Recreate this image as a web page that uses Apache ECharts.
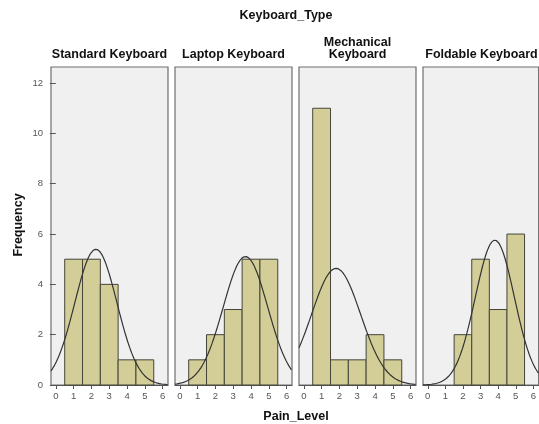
<!DOCTYPE html>
<html>
<head>
<meta charset="utf-8">
<script src="https://cdn.jsdelivr.net/npm/echarts@6/dist/echarts.min.js"></script>
<style>html,body{margin:0;padding:0;background:#fff}#c{width:539px;height:424px}</style>
</head>
<body>
<div id="c"></div>
<script>
const panelTitles = ['Standard Keyboard', 'Laptop Keyboard', 'Mechanical\nKeyboard', 'Foldable Keyboard'];
const painLevels = [1, 2, 3, 4, 5];
const standardCounts = [5, 5, 4, 1, 1];
const laptopCounts = [1, 2, 3, 5, 5];
const mechanicalCounts = [11, 1, 1, 2, 1];
const foldableCounts = [0, 2, 5, 3, 6];
const xTicks = [0, 1, 2, 3, 4, 5, 6];
const yTicks = [0, 2, 4, 6, 8, 10, 12];

const allCounts = [standardCounts, laptopCounts, mechanicalCounts, foldableCounts];

const X_MIN = -0.27, X_MAX = 6.3, Y_MAX = 12.64;
const PANEL_LEFT = 51, PANEL_STEP = 124, PANEL_W = 117, PANEL_TOP = 67, PANEL_H = 318;

function normalCurve(counts) {
  let n = 0, s = 0, ss = 0;
  counts.forEach((c, i) => { const v = painLevels[i]; n += c; s += c * v; ss += c * v * v; });
  const mean = s / n;
  const sd = Math.sqrt((ss - n * mean * mean) / (n - 1));
  const pts = [];
  for (let x = X_MIN; x <= X_MAX + 1e-9; x += 0.02) {
    const z = (x - mean) / sd;
    pts.push([x, n * 1 / (sd * Math.sqrt(2 * Math.PI)) * Math.exp(-0.5 * z * z)]);
  }
  return pts;
}

const tickFont = { color: '#555', fontSize: 9.5, fontFamily: 'Liberation Sans, Arial, sans-serif' };
const grids = [], xAxes = [], yAxes = [], series = [];
allCounts.forEach((counts, i) => {
  grids.push({
    left: PANEL_LEFT + PANEL_STEP * i, top: PANEL_TOP, width: PANEL_W, height: PANEL_H,
    show: true, backgroundColor: '#f0f0f0', borderColor: '#6e6e6e', borderWidth: 1.2,
    containLabel: false
  });
  xAxes.push({
    type: 'value', gridIndex: i, min: X_MIN, max: X_MAX,
    splitLine: { show: false },
    axisLine: { show: true, onZero: false, lineStyle: { color: '#555', width: 1 } },
    axisTick: { show: true, length: 4, customValues: xTicks, lineStyle: { color: '#555' } },
    axisLabel: Object.assign({ customValues: xTicks, margin: 6 }, tickFont)
  });
  yAxes.push({
    type: 'value', gridIndex: i, min: 0, max: Y_MAX,
    show: i === 0,
    splitLine: { show: false },
    axisLine: { show: false },
    axisTick: { show: true, length: 6, customValues: yTicks, lineStyle: { color: '#555' } },
    axisLabel: Object.assign({ customValues: yTicks, margin: 8 }, tickFont)
  });
  series.push({
    type: 'custom', xAxisIndex: i, yAxisIndex: i,
    data: painLevels.map((v, k) => [v, counts[k]]),
    encode: { x: 0, y: 1 },
    z: 2,
    renderItem: function (params, api) {
      const x = api.value(0), y = api.value(1);
      if (!y) return null;
      const p0 = api.coord([x - 0.5, 0]);
      const p1 = api.coord([x + 0.5, y]);
      return {
        type: 'rect',
        shape: { x: p0[0], y: p1[1], width: p1[0] - p0[0], height: p0[1] - p1[1] },
        style: { fill: '#d3ce97', stroke: '#45453a', lineWidth: 1 }
      };
    }
  });
  series.push({
    type: 'line', xAxisIndex: i, yAxisIndex: i, z: 3,
    data: normalCurve(counts), showSymbol: false, symbol: 'none', smooth: false,
    lineStyle: { color: '#333', width: 1.2 }, clip: true, silent: true
  });
});

const font = 'bold 12.5px "Liberation Sans", Arial, sans-serif';
const graphics = [
  { type: 'text', x: 286, y: 16, style: { text: 'Keyboard_Type', font: font, fill: '#111', textAlign: 'center', textVerticalAlign: 'middle' } },
  { type: 'text', x: 296, y: 417, style: { text: 'Pain_Level', font: font, fill: '#111', textAlign: 'center', textVerticalAlign: 'middle' } },
  { type: 'text', x: 19, y: 225, rotation: Math.PI / 2, style: { text: 'Frequency', font: font, fill: '#111', textAlign: 'center', textVerticalAlign: 'middle' } }
];
panelTitles.forEach((t, i) => {
  const lines = t.split('\n').length;
  graphics.push({
    type: 'text', x: PANEL_LEFT + PANEL_STEP * i + PANEL_W / 2, y: 55 - (lines - 1) * 6,
    style: { text: t, font: font, fill: '#111', textAlign: 'center', textVerticalAlign: 'middle', lineHeight: 12 }
  });
});

const chart = echarts.init(document.getElementById('c'), null, { renderer: 'canvas' });
chart.setOption({
  animation: false,
  backgroundColor: '#fff',
  grid: grids, xAxis: xAxes, yAxis: yAxes, series: series,
  graphic: graphics
});
</script>
</body>
</html>
